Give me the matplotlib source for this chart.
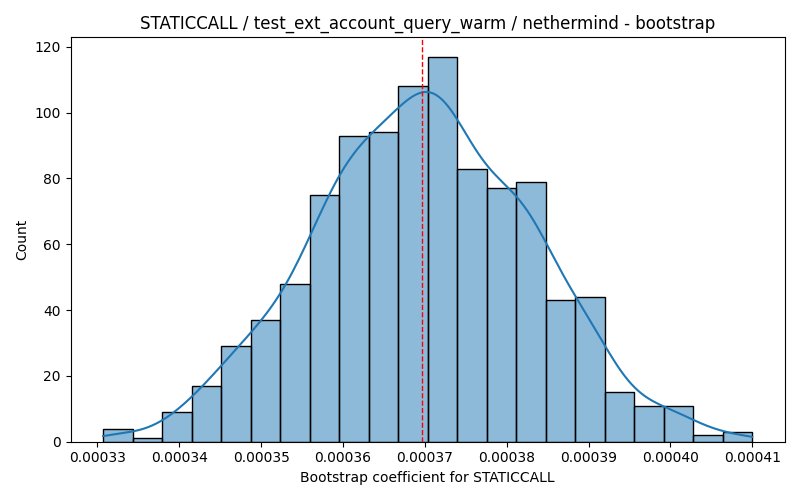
import matplotlib
matplotlib.use('Agg')
import matplotlib.pyplot as plt
import seaborn as sns
import numpy as np

opcode = 'STATICCALL'
test_name = 'test_ext_account_query_warm'
client = 'nethermind'

# histogram
first_edge = 0.0003307
last_edge = 0.00041
counts = [4, 1, 9, 17, 29, 37, 48, 75, 93, 94, 108,
          117, 83, 77, 79, 43, 44, 15, 11, 11, 2, 3]
coef = 0.00036967  # red dashed line

edges = np.linspace(first_edge, last_edge, len(counts) + 1)
width = edges[1] - edges[0]
centers = 0.5 * (edges[:-1] + edges[1:])
samples = np.repeat(centers, counts)


def kde_curve(data, grid):
    # gaussian kde, scott's rule, scaled to counts like seaborn does
    # (add back the spread lost by putting everything at bin centres)
    n = len(data)
    sd = np.sqrt(data.var(ddof=1) + width ** 2 / 12.)
    bw = sd * n ** (-1. / 5)
    z = (grid[:, None] - data[None, :]) / bw
    dens = np.exp(-0.5 * z ** 2).sum(axis=1) / (n * bw * np.sqrt(2 * np.pi))
    return dens * n * width


fig, ax = plt.subplots(figsize=(8, 5), dpi=100)
sns.histplot(samples, bins=edges, alpha=0.5, ax=ax)
grid = np.linspace(first_edge, last_edge, 200)
ax.plot(grid, kde_curve(samples, grid), color='C0', lw=1.5)
ax.axvline(coef, color='red', ls='--', lw=1)
ax.set_title('%s / %s / %s - bootstrap' % (opcode, test_name, client))
ax.set_xlabel('Bootstrap coefficient for %s' % opcode)
ax.set_ylabel('Count')
plt.tight_layout()
plt.savefig('out.png')
